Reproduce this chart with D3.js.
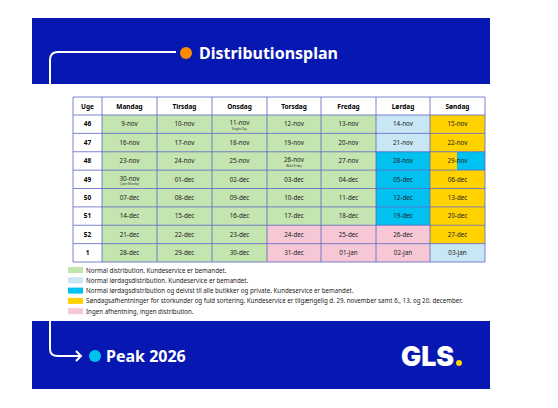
<!DOCTYPE html><html><head><meta charset="utf-8"><script src="https://cdn.jsdelivr.net/npm/d3@7"></script>
<style>body{margin:0;background:#fff}svg{display:block;font-family:"Noto Sans",sans-serif}</style></head><body><svg id="c" width="558" height="408"></svg>
<script>
const days=["Mandag","Tirsdag","Onsdag","Torsdag","Fredag","Lørdag","Søndag"];
const weeks=["46","47","48","49","50","51","52","1"];
const dates=[
["9-nov","10-nov","11-nov","12-nov","13-nov","14-nov","15-nov"],
["16-nov","17-nov","18-nov","19-nov","20-nov","21-nov","22-nov"],
["23-nov","24-nov","25-nov","26-nov","27-nov","28-nov","29-nov"],
["30-nov","01-dec","02-dec","03-dec","04-dec","05-dec","06-dec"],
["07-dec","08-dec","09-dec","10-dec","11-dec","12-dec","13-dec"],
["14-dec","15-dec","16-dec","17-dec","18-dec","19-dec","20-dec"],
["21-dec","22-dec","23-dec","24-dec","25-dec","26-dec","27-dec"],
["28-dec","29-dec","30-dec","31-dec","01-jan","02-jan","03-jan"]];
// status: g normal, l lørdag, c delvist, y søndag, p ingen, s split y/c
const status=["gggggly","gggggly","gggggcs","gggggcy","gggggcy","gggggcy","gggpppy","gggppply"];
const notes=[[0,2,"Singles Day"],[2,3,"Black Friday"],[3,0,"Cyber Monday"]];
const legendKeys=["g","l","c","y","p"];
const legendText=["Normal distribution. Kundeservice er bemandet.","Normal lørdagsdistribution. Kundeservice er bemandet.","Normal lørdagsdistribution og delvist til alle butikker og private. Kundeservice er bemandet.","Søndagsafhentninger for storkunder og fuld sortering. Kundeservice er tilgængelig d. 29. november samt 6., 13. og 20. december.","Ingen afhentning, ingen distribution."];
const col={g:"#c4e4b0",l:"#c8e6f3",c:"#00c1f0",y:"#ffd200",p:"#f6c8d6"};
const navy="#0717b2";
const svg=d3.select("#c");
svg.append("rect").attr("x",32).attr("y",18).attr("width",458).attr("height",66).attr("fill",navy);
svg.append("rect").attr("x",32).attr("y",321).attr("width",458).attr("height",68).attr("fill",navy);
svg.append("path").attr("d","M50,84 V60 Q50,52 58,52 H176").attr("fill","none").attr("stroke","#fff").attr("stroke-width",2);
svg.append("circle").attr("cx",186).attr("cy",53).attr("r",6).attr("fill","#ff8c00");
svg.append("text").attr("x",199).attr("y",59).attr("fill","#fff").attr("font-size",16).attr("font-weight","bold").text("Distributionsplan");
svg.append("path").attr("d","M50,321 V349 Q50,356 58,356 H81 M76,351 L81,356 L76,361").attr("fill","none").attr("stroke","#fff").attr("stroke-width",2);
svg.append("circle").attr("cx",95).attr("cy",356).attr("r",6).attr("fill","#00c1f0");
svg.append("text").attr("x",106).attr("y",362).attr("fill","#fff").attr("font-size",16).attr("font-weight","bold").text("Peak 2026");
svg.append("text").attr("x",401).attr("y",366).attr("fill","#fff").attr("font-size",27).attr("font-weight","900").attr("font-family","Inter, sans-serif").attr("textLength",53).attr("lengthAdjust","spacingAndGlyphs").text("GLS");
svg.append("circle").attr("cx",459).attr("cy",363).attr("r",3).attr("fill","#ffd200");
const colEdges=[73,102,157,212,267,321,376,430,485];
const xe=i=>colEdges[i];
const rowY=i=>i===0?97:115+(i-1)*(262-115)/8;
const g=svg.append("g");
g.append("rect").attr("x",73).attr("y",97).attr("width",412).attr("height",18).attr("fill","#fff");
const hdr=["Uge",...days];
hdr.forEach((h,i)=>g.append("text").attr("x",(xe(i)+xe(i+1))/2).attr("y",109).attr("text-anchor","middle").attr("font-size",6.5).attr("font-weight","bold").text(h));
weeks.forEach((w,r)=>{
 const y0=rowY(r+1),y1=rowY(r+2),h=y1-y0;
 g.append("rect").attr("x",73).attr("y",y0).attr("width",29).attr("height",h).attr("fill","#fff");
 g.append("text").attr("x",87.5).attr("y",y0+h/2+2.3).attr("text-anchor","middle").attr("font-size",6.5).attr("font-weight","bold").text(w);
 days.forEach((d,c)=>{
  const s=status[r][c],x0=xe(c+1),x1=xe(c+2);
  if(s==="s"){
   g.append("rect").attr("x",x0).attr("y",y0).attr("width",x1-x0).attr("height",h).attr("fill",col.c);
   g.append("rect").attr("x",x0).attr("y",y0).attr("width",27).attr("height",h).attr("fill",col.y);
  } else g.append("rect").attr("x",x0).attr("y",y0).attr("width",x1-x0).attr("height",h).attr("fill",col[s]);
  const hasNote=notes.some(n=>n[0]===r&&n[1]===c);
  g.append("text").attr("x",(x0+x1)/2).attr("y",y0+h/2+2.2-(hasNote?1:0)).attr("text-anchor","middle").attr("font-size",6.3).attr("fill","#222").text(dates[r][c]);
 });
});
notes.forEach(([r,c,t])=>{const y0=rowY(r+1);g.append("text").attr("x",(xe(c+1)+xe(c+2))/2).attr("y",y0+15).attr("text-anchor","middle").attr("font-size",2.8).attr("fill","#333").text(t);});
colEdges.forEach(v=>g.append("line").attr("x1",v).attr("x2",v).attr("y1",97).attr("y2",262).attr("stroke","#5b62c4").attr("stroke-width",0.8));
d3.range(10).forEach(i=>g.append("line").attr("x1",73).attr("x2",485).attr("y1",rowY(i)).attr("y2",rowY(i)).attr("stroke","#5b62c4").attr("stroke-width",0.8));
legendKeys.forEach((k,i)=>{const yy=267+i*10.3;
 svg.append("rect").attr("x",68).attr("y",yy).attr("width",15).attr("height",6).attr("fill",col[k]);
 svg.append("text").attr("x",86).attr("y",yy+5.5).attr("font-size",6.2).attr("fill","#222").text(legendText[i]);});
</script></body></html>
